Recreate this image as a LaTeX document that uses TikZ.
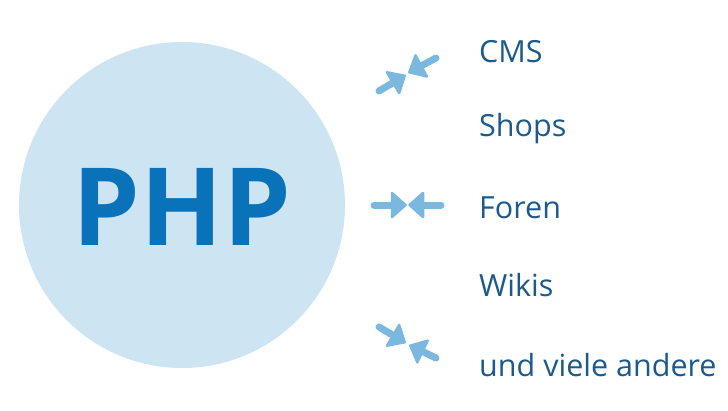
\documentclass[tikz,border=0pt]{standalone}
\usepackage{fontspec}
\setmainfont{Open Sans}
\usetikzlibrary{calc}
\definecolor{phpblue}{HTML}{0A72B8}
\definecolor{phplight}{HTML}{CDE4F2}
\definecolor{labelblue}{HTML}{1A5A8C}
\definecolor{arrowblue}{HTML}{7AB8E0}
% fat arrow from #1 (tail) to #2 (tip)
\newcommand{\fatarrow}[2]{%
  \path (#2) coordinate (tip) ($(#2)!15pt!(#1)$) coordinate (base);
  \filldraw[arrowblue,line width=2.5pt,line join=round]
    ($(tip)!1.5pt!(base)$) -- ($(base)!12pt!90:(tip)$) -- ($(base)!12pt!-90:(tip)$) -- cycle;
  \draw[shaft] (#1) -- ($(base)!3pt!(tip)$);}
\begin{document}
\begin{tikzpicture}[x=1pt,y=-1pt,
    label/.style={anchor=base west,inner sep=0pt,text=labelblue,font=\fontsize{30.5}{30.5}\selectfont},
    shaft/.style={draw=arrowblue,line width=7pt,line cap=round}]
            \useasboundingbox (0,0) rectangle (728,410);
            \fill[phplight] (182,205) circle (163);
            \node[text=phpblue,font=\fontsize{108}{108}\selectfont\bfseries] (php) at (182,207) {PHP};
            % labels
            \node[label] (cms) at (479,62) {CMS};
            \node[label] (shops) at (479,136) {Shops};
            \node[label] (foren) at (479,218) {Foren};
            \node[label] (wikis) at (479,296) {Wikis};
            \node[label] (andere) at (479,376) {und viele andere};
            % arrows
            \coordinate (t1a) at (379,91);  \coordinate (h1a) at (406,75);
            \coordinate (t1b) at (436,58);  \coordinate (h1b) at (408,73);
            \coordinate (t2a) at (374,205); \coordinate (h2a) at (407,205);
            \coordinate (t2b) at (441,205); \coordinate (h2b) at (408,205);
            \coordinate (t3a) at (379,327); \coordinate (h3a) at (406,343);
            \coordinate (t3b) at (436,358); \coordinate (h3b) at (409,345);
            \fatarrow{t1a}{h1a}
            \fatarrow{t1b}{h1b}
            \fatarrow{t2a}{h2a}
            \fatarrow{t2b}{h2b}
            \fatarrow{t3a}{h3a}
            \fatarrow{t3b}{h3b}
        \end{tikzpicture}
\end{document}
